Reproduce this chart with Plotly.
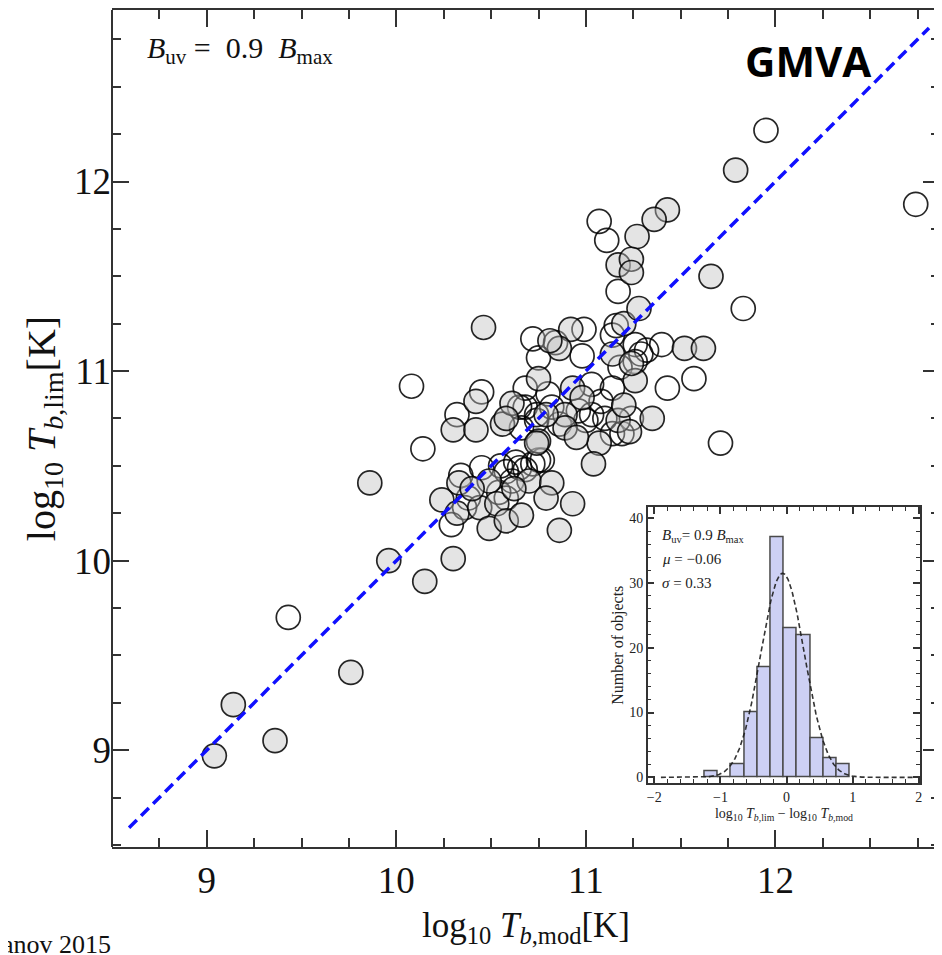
import numpy as np
import plotly.graph_objects as go

# ---------------- data ----------------
filled_x = [9.04, 9.14, 9.36, 9.76, 9.96, 10.15, 10.30, 9.86,
            10.46, 10.42, 10.30, 10.42, 10.56, 10.33, 10.49, 10.70, 10.82, 10.24, 10.32,
            10.44, 10.53, 10.79, 10.93, 10.49, 10.58, 10.86,
            10.92, 10.86, 11.20, 11.14, 11.52, 11.62, 11.26, 11.24, 10.93, 10.75, 10.61,
            10.89, 11.17, 11.35, 11.23, 11.07, 11.04, 10.89, 10.75, 10.58,
            11.66, 11.28, 11.79, 11.43, 11.36, 11.27, 11.17, 11.24, 11.24,
            10.81, 10.79, 10.74, 10.62, 10.40, 10.66, 10.98, 11.20, 10.95]
filled_y = [8.97, 9.24, 9.05, 9.41, 10.00, 9.89, 10.01, 10.41,
            11.23, 10.84, 10.69, 10.69, 10.72, 10.41, 10.42, 10.42, 10.41, 10.32, 10.25,
            10.28, 10.30, 10.33, 10.30, 10.17, 10.21, 10.16,
            11.22, 11.12, 11.25, 11.09, 11.12, 11.12, 10.95, 11.04, 10.91, 10.96, 10.83,
            10.77, 10.74, 10.75, 10.68, 10.62, 10.51, 10.70, 10.63, 10.75,
            11.50, 11.33, 12.06, 11.85, 11.80, 11.71, 11.56, 11.59, 11.52,
            11.16, 10.77, 10.62, 10.38, 10.38, 10.24, 10.86, 10.82, 10.65]

open_x = [9.43, 10.08, 10.14,
          10.45, 10.32, 10.34, 10.45, 10.58, 10.65, 10.72, 10.77, 10.61, 10.38, 10.58, 10.29,
          10.72, 10.99, 10.98, 10.75, 11.14, 11.26, 11.29, 11.40, 11.57, 11.43, 11.14, 11.03,
          10.68, 10.68, 10.74, 10.82, 10.96, 11.03, 11.10, 11.24, 11.14, 11.71, 10.66,
          11.17, 11.83, 11.95, 12.74, 11.07, 11.11,
          11.16, 10.84, 11.26, 11.32, 10.65, 10.74, 10.86, 11.00, 11.19, 10.75,
          10.68, 10.63, 10.55, 10.54, 10.36, 10.80, 11.08, 11.18]
open_y = [9.70, 10.92, 10.59,
          10.89, 10.77, 10.45, 10.49, 10.47, 10.49, 10.51, 10.53, 10.42, 10.33, 10.33, 10.19,
          11.17, 11.22, 11.08, 11.07, 11.19, 11.14, 11.09, 11.14, 10.96, 10.91, 10.91, 10.93,
          10.91, 10.81, 10.77, 10.81, 10.79, 10.77, 10.75, 10.75, 10.67, 10.62, 10.70,
          11.42, 11.33, 12.27, 11.88, 11.79, 11.69,
          11.24, 11.15, 11.05, 11.11, 10.81, 10.74, 10.72, 10.74, 10.67, 10.53,
          10.48, 10.52, 10.50, 10.36, 10.28, 10.88, 10.84, 11.02]

one_to_one = [8.59, 12.81]

# inset histogram
bin_left = [-1.24, -1.04, -0.84, -0.64, -0.44, -0.24, -0.04, 0.16, 0.36, 0.56, 0.76]
bin_counts = [1, 0, 2, 10, 17, 37, 23, 22, 6, 3, 2]
bin_width = 0.2
mu, sigma, peak = -0.06, 0.33, 31.5
gauss_span = [-1.9, 1.95]

SERIF = "Liberation Serif"
AX = "#333333"

fig = go.Figure()

fig.add_trace(go.Scatter(
    x=open_x, y=open_y, mode="markers", xaxis="x", yaxis="y",
    marker=dict(size=24, color="rgba(255,255,255,0)",
                line=dict(color="rgba(0,0,0,0.85)", width=1.7)),
    hoverinfo="skip", showlegend=False))
fig.add_trace(go.Scatter(
    x=filled_x, y=filled_y, mode="markers", xaxis="x", yaxis="y",
    marker=dict(size=24, color="rgba(190,190,190,0.42)",
                line=dict(color="rgba(0,0,0,0.85)", width=1.7)),
    hoverinfo="skip", showlegend=False))
fig.add_trace(go.Scatter(
    x=one_to_one, y=one_to_one, mode="lines", xaxis="x", yaxis="y",
    line=dict(color="#1010ff", width=3.5, dash="11px,6px"),
    hoverinfo="skip", showlegend=False))

# inset
centers = [b + bin_width / 2 for b in bin_left]
fig.add_trace(go.Bar(
    x=centers, y=bin_counts, width=bin_width, xaxis="x2", yaxis="y2",
    marker=dict(color="#cdd0f4", line=dict(color="#4a4a4a", width=1.5)),
    hoverinfo="skip", showlegend=False))
gx = np.linspace(gauss_span[0], gauss_span[1], 400)
gy = peak * np.exp(-(gx - mu) ** 2 / (2 * sigma ** 2))
fig.add_trace(go.Scatter(
    x=gx, y=gy, mode="lines", xaxis="x2", yaxis="y2",
    line=dict(color="rgba(30,30,30,0.9)", width=1.6, dash="5px,3px"),
    hoverinfo="skip", showlegend=False))

tick_common = dict(ticks="inside", showgrid=False, zeroline=False, mirror="allticks")

fig.update_layout(
    width=934, height=947,
    margin=dict(l=104, r=0, t=0, b=108),
    paper_bgcolor="white", plot_bgcolor="white",
    bargap=0,
    xaxis=dict(range=[8.5, 12.868], tickvals=[9, 10, 11, 12], ticklen=17, tickwidth=2,
               tickcolor=AX, showline=True, linewidth=2, linecolor=AX,
               minor=dict(ticks="inside", dtick=0.25, tick0=9, ticklen=9,
                          tickwidth=2, tickcolor=AX, showgrid=False),
               tickfont=dict(family=SERIF, size=37, color="#111"),
               title=dict(text="log<sub>10</sub> <i>T</i><sub><i>b</i>,mod</sub>[K]",
                          font=dict(family=SERIF, size=35, color="#111"), standoff=12),
               **tick_common),
    yaxis=dict(range=[8.489, 12.905], tickvals=[9, 10, 11, 12], ticklen=17, tickwidth=2,
               tickcolor=AX, showline=False,
               minor=dict(ticks="inside", dtick=0.25, tick0=9, ticklen=9,
                          tickwidth=2, tickcolor=AX, showgrid=False),
               tickfont=dict(family=SERIF, size=37, color="#111"),
               title=dict(text="log<sub>10</sub> <i>T</i><sub><i>b</i>,lim</sub>[K]",
                          font=dict(family=SERIF, size=40, color="#111"), standoff=6),
               **tick_common),
    xaxis2=dict(domain=[0.647, 0.976], anchor="y2", range=[-2.1, 2.02],
                tickvals=[-2, -1, 0, 1, 2], ticktext=["\u22122", "\u22121", "0", "1", "2"],
                ticklen=7, tickwidth=1.5, tickcolor=AX,
                showline=True, linewidth=1.5, linecolor=AX,
                minor=dict(ticks="inside", dtick=0.2, ticklen=4, tickwidth=1,
                           tickcolor=AX, showgrid=False),
                tickfont=dict(family=SERIF, size=14, color="#222"),
                title=dict(text="log<sub>10</sub> <i>T</i><sub><i>b</i>,lim</sub> \u2212 log<sub>10</sub> <i>T</i><sub><i>b</i>,mod</sub>",
                           font=dict(family=SERIF, size=14, color="#222"), standoff=4),
                **tick_common),
    yaxis2=dict(domain=[0.0762, 0.406], anchor="x2", range=[-0.9, 41.7],
                tickvals=[0, 10, 20, 30, 40], ticklen=7, tickwidth=1.5, tickcolor=AX,
                showline=True, linewidth=1.5, linecolor=AX,
                minor=dict(ticks="inside", dtick=2, ticklen=4, tickwidth=1,
                           tickcolor=AX, showgrid=False),
                tickfont=dict(family=SERIF, size=14, color="#222"),
                title=dict(text="Number of objects",
                           font=dict(family=SERIF, size=16, color="#222"), standoff=2),
                **tick_common),
)

# left frame line (the right edge of the frame lies just outside the picture)
fig.add_shape(type="line", xref="paper", yref="paper", x0=0, x1=0, y0=0, y1=1,
              line=dict(color=AX, width=2))

ann = []
ann.append(dict(text="<i>B</i><sub>uv</sub> =\u20020.9\u2002<i>B</i><sub>max</sub>",
                x=0.040, y=0.952, xref="paper", yref="paper", xanchor="left",
                yanchor="middle", showarrow=False,
                font=dict(family=SERIF, size=30, color="#111")))
ann.append(dict(text="<b>GMVA</b>", x=0.841, y=0.940, xref="paper", yref="paper",
                xanchor="center", yanchor="middle", showarrow=False,
                font=dict(family="Open Sans", size=42, color="black")))
ann.append(dict(text="<i>B</i><sub>uv</sub>= 0.9 <i>B</i><sub>max</sub>",
                x=0.662, y=0.371, xref="paper", yref="paper", xanchor="left",
                yanchor="middle", showarrow=False,
                font=dict(family=SERIF, size=15, color="#222")))
ann.append(dict(text="<i>\u03bc</i> = \u22120.06",
                x=0.662, y=0.344, xref="paper", yref="paper", xanchor="left",
                yanchor="middle", showarrow=False,
                font=dict(family=SERIF, size=15, color="#222")))
ann.append(dict(text="<i>\u03c3</i> = 0.33",
                x=0.662, y=0.3155, xref="paper", yref="paper", xanchor="left",
                yanchor="middle", showarrow=False,
                font=dict(family=SERIF, size=15, color="#222")))
ann.append(dict(text="anov 2015", x=-0.135, y=-0.117, xref="paper", yref="paper",
                xanchor="left", yanchor="middle", showarrow=False,
                font=dict(family=SERIF, size=26, color="#111")))
ann.append(dict(text="4", x=0.991, y=-0.117, xref="paper", yref="paper",
                xanchor="left", yanchor="middle", showarrow=False,
                font=dict(family=SERIF, size=26, color="#111")))
fig.update_layout(annotations=ann)

fig.write_html("out.html")
